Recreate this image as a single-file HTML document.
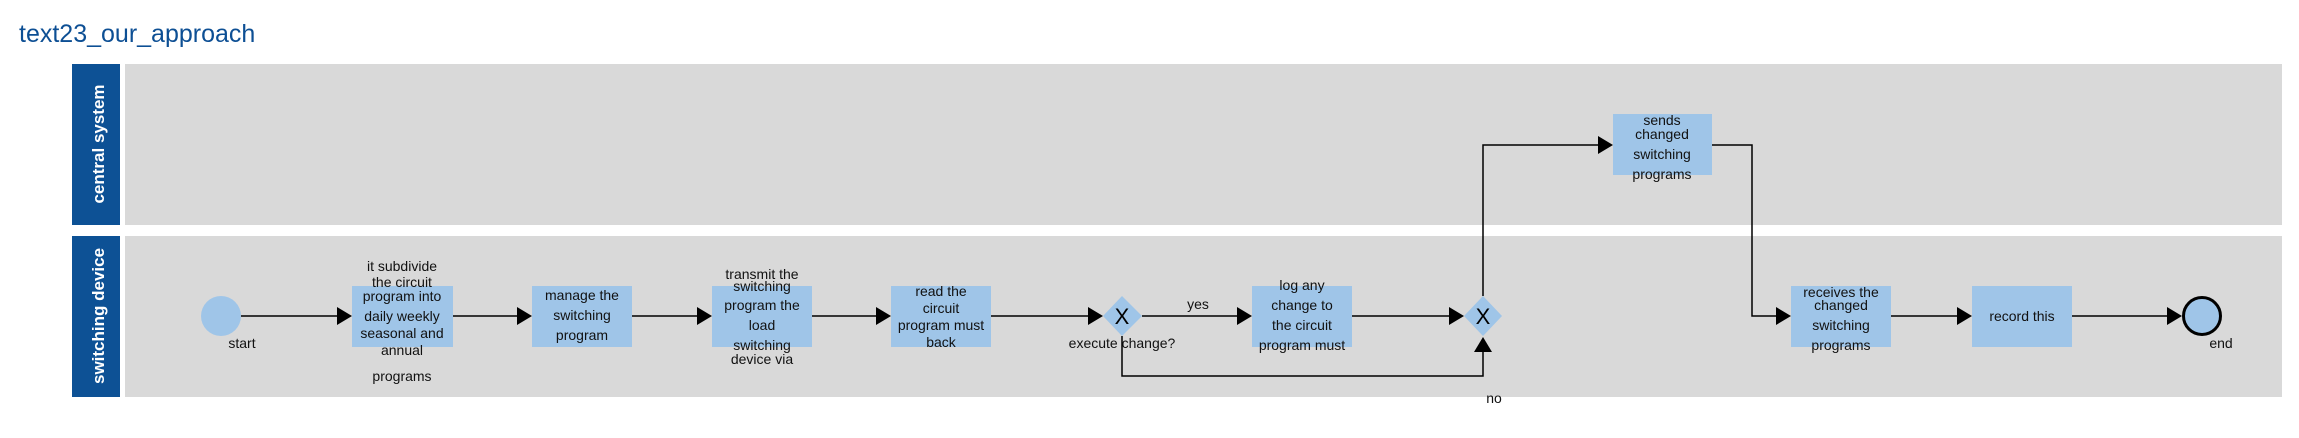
<!DOCTYPE html>
<html><head><meta charset="utf-8"><style>
html,body{margin:0;padding:0;background:#fff;}
svg{display:block;}
text{font-family:"Liberation Sans",Arial,sans-serif;}
.t{font-size:14px;fill:#111;text-anchor:middle;}
.l{font-size:17px;fill:#fff;text-anchor:middle;font-weight:bold;}
</style></head><body>
<svg width="2299" height="438" viewBox="0 0 2299 438" xmlns="http://www.w3.org/2000/svg">
<text x="19" y="42" style="font-size:25px;fill:#0d4f94">text23_our_approach</text>
<rect x="72" y="64" width="48" height="161" fill="#0d5195"/>
<rect x="125" y="64" width="2157" height="161" fill="#d9d9d9"/>
<rect x="72" y="236" width="48" height="161" fill="#0d5195"/>
<rect x="125" y="236" width="2157" height="161" fill="#d9d9d9"/>
<text class="l" transform="translate(104,144) rotate(-90)">central system</text>
<text class="l" transform="translate(104,316) rotate(-90)">switching device</text>

<g stroke="#000" stroke-width="1.5" fill="none">
<line x1="241" y1="316" x2="340" y2="316"/>
<line x1="453" y1="316" x2="520" y2="316"/>
<line x1="632" y1="316" x2="700" y2="316"/>
<line x1="812" y1="316" x2="879" y2="316"/>
<line x1="991" y1="316" x2="1090" y2="316"/>
<line x1="1142" y1="316" x2="1240" y2="316"/>
<line x1="1352" y1="316" x2="1450" y2="316"/>
<polyline points="1122,336 1122,376 1483,376 1483,352"/>
<polyline points="1483,296 1483,145 1600,145"/>
<polyline points="1712,145 1752,145 1752,316 1778,316"/>
<line x1="1891" y1="316" x2="1960" y2="316"/>
<line x1="2072" y1="316" x2="2167" y2="316"/>
</g>
<g fill="#000">
<polygon points="337,307 352,316 337,325"/>
<polygon points="517,307 532,316 517,325"/>
<polygon points="697,307 712,316 697,325"/>
<polygon points="876,307 891,316 876,325"/>
<polygon points="1088,307 1103,316 1088,325"/>
<polygon points="1237,307 1252,316 1237,325"/>
<polygon points="1449,307 1464,316 1449,325"/>
<polygon points="1474,352 1483,337 1492,352"/>
<polygon points="1598,136 1613,145 1598,154"/>
<polygon points="1776,307 1791,316 1776,325"/>
<polygon points="1957,307 1972,316 1957,325"/>
<polygon points="2167,307 2182,316 2167,325"/>
</g>

<circle cx="221" cy="316" r="20" fill="#9fc5e8"/>
<circle cx="2202" cy="316" r="18.5" fill="#9fc5e8" stroke="#000" stroke-width="3"/>

<g fill="#9fc5e8">
<rect x="352" y="286" width="101" height="61"/>
<rect x="532" y="286" width="100" height="61"/>
<rect x="712" y="286" width="100" height="61"/>
<rect x="891" y="286" width="100" height="61"/>
<rect x="1252" y="286" width="100" height="61"/>
<rect x="1613" y="114" width="99" height="61"/>
<rect x="1791" y="286" width="100" height="61"/>
<rect x="1972" y="286" width="100" height="61"/>
<polygon points="1122,296 1142,316 1122,336 1103,316"/>
<polygon points="1483,296 1502,316 1483,336 1464,316"/>
</g>
<text x="1122" y="324" style="font-size:22px;text-anchor:middle">X</text>
<text x="1483" y="324" style="font-size:22px;text-anchor:middle">X</text>

<text class="t" x="242" y="348">start</text>
<text class="t" x="2221" y="348">end</text>
<text class="t" x="1122" y="348">execute change?</text>
<text class="t" x="1198" y="309">yes</text>
<text class="t" x="1494" y="403">no</text>

<text class="t" x="402" y="271">it subdivide</text>
<text class="t" x="402" y="287">the circuit</text>
<text class="t" x="402" y="301">program into</text>
<text class="t" x="402" y="321">daily weekly</text>
<text class="t" x="402" y="338">seasonal and</text>
<text class="t" x="402" y="355">annual</text>
<text class="t" x="402" y="381">programs</text>

<text class="t" x="582" y="300">manage the</text>
<text class="t" x="582" y="320">switching</text>
<text class="t" x="582" y="340">program</text>

<text class="t" x="762" y="279">transmit the</text>
<text class="t" x="762" y="291">switching</text>
<text class="t" x="762" y="310">program the</text>
<text class="t" x="762" y="330">load</text>
<text class="t" x="762" y="350">switching</text>
<text class="t" x="762" y="364">device via</text>

<text class="t" x="941" y="296">read the</text>
<text class="t" x="941" y="313">circuit</text>
<text class="t" x="941" y="330">program must</text>
<text class="t" x="941" y="347">back</text>

<text class="t" x="1302" y="290">log any</text>
<text class="t" x="1302" y="310">change to</text>
<text class="t" x="1302" y="330">the circuit</text>
<text class="t" x="1302" y="350">program must</text>

<text class="t" x="1662" y="125">sends</text>
<text class="t" x="1662" y="139">changed</text>
<text class="t" x="1662" y="159">switching</text>
<text class="t" x="1662" y="179">programs</text>

<text class="t" x="1841" y="297">receives the</text>
<text class="t" x="1841" y="310">changed</text>
<text class="t" x="1841" y="330">switching</text>
<text class="t" x="1841" y="350">programs</text>

<text class="t" x="2022" y="321">record this</text>
</svg>
</body></html>
